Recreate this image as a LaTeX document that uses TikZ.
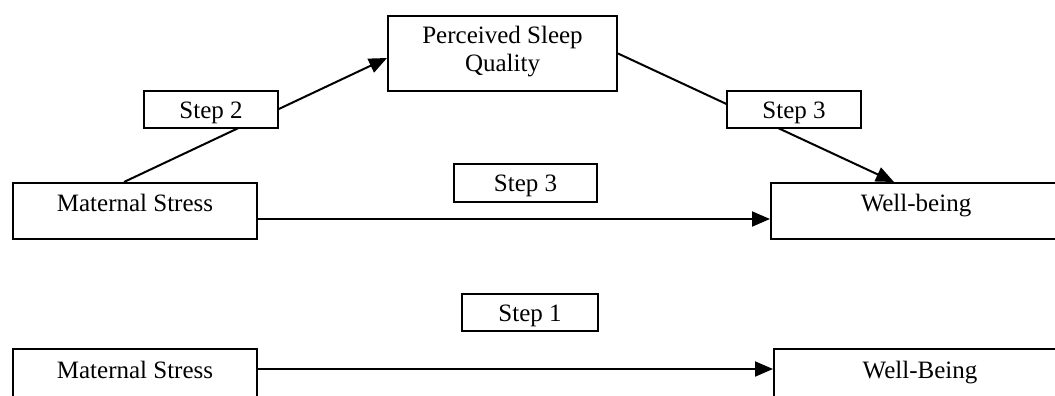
\documentclass[tikz,border=0pt]{standalone}
\usepackage{fontspec}
\setmainfont{Liberation Serif}
\usetikzlibrary{arrows.meta}
\begin{document}
\begin{tikzpicture}[x=0.5pt,y=-0.5pt,
        varbox/.style={rectangle,draw,line width=1pt,fill=white,inner sep=0pt,
            font=\fontsize{12.5}{12.5}\selectfont,anchor=north west},
        stepbox/.style={varbox,text height=13.5pt,text depth=5pt,minimum width=67pt},
        mainbox/.style={varbox,text height=14pt,text depth=14pt}]
        \useasboundingbox (0,0) rectangle (1055,396);
        % mediation model
        \node[varbox,align=center,minimum width=114.5pt,text height=27.5pt,text depth=10pt] (psq) at (387,15) {Perceived Sleep\\[1.5pt]Quality};
        \node[mainbox,minimum width=122pt] (ms1) at (12,182) {Maternal Stress};
        \node[mainbox,minimum width=145pt] (wb1) at (770,182) {Well-being};
        \begin{scope}[every edge/.style={draw,line width=1pt,-{Triangle[length=9pt,width=7.5pt]}}]
            \path
                ([xshift=-5.5pt]ms1.north) edge ([yshift=-2.25pt]psq.west)
                (psq.east) edge ([xshift=-11pt]wb1.north)
                ([yshift=-4pt]ms1.east) edge ([yshift=-4pt]wb1.west);
        \end{scope}
        \node[stepbox] (s2) at (143,90) {Step 2};
        \node[stepbox] (s3a) at (726,90) {Step 3};
        \node[stepbox,minimum width=71.5pt,text depth=5.5pt] (s3b) at (453,163) {Step 3};
        % total effect
        \node[stepbox,minimum width=68pt] (s1) at (461,293) {Step 1};
        \node[mainbox,minimum width=122pt,text height=14.5pt,text depth=13.5pt] (ms2) at (12,348) {Maternal Stress};
        \node[mainbox,minimum width=146pt,text height=14.5pt,text depth=13.5pt] (wb2) at (773,348) {Well-Being};
        \draw[line width=1pt,-{Triangle[length=9pt,width=7.5pt]}] ([yshift=4pt]ms2.east) -- ([yshift=4pt]wb2.west);
\end{tikzpicture}
\end{document}
